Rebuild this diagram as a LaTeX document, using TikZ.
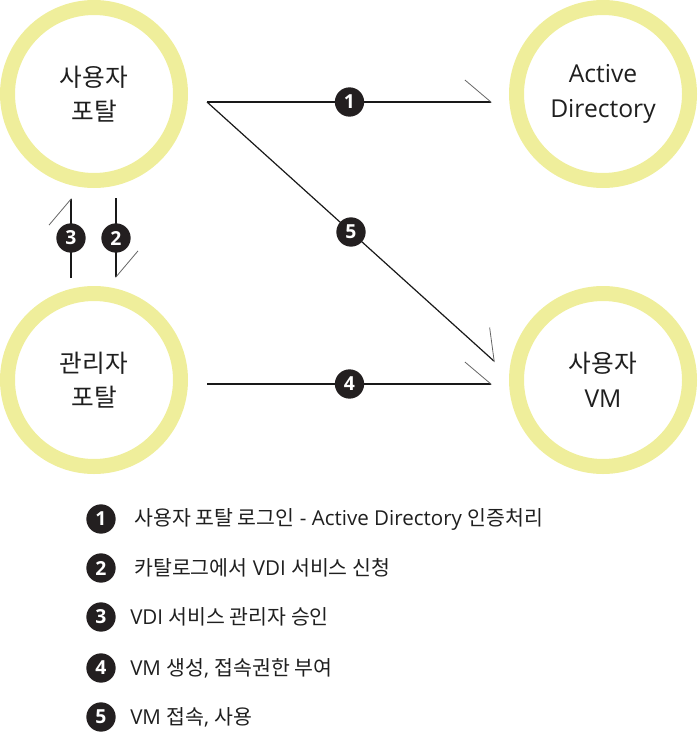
\documentclass[tikz,border=0pt]{standalone}
\usepackage{fontspec}
\setmainfont{Open Sans}
\newfontfamily\kr{Noto Sans CJK KR}
\usepackage{tikz}
\usetikzlibrary{arrows.meta,positioning}
\definecolor{ringyellow}{RGB}{239,238,155}
\definecolor{badgedark}{RGB}{35,31,32}

\begin{document}
\begin{tikzpicture}[x=0.75pt, y=-0.75pt,
    flow/.style={line width=0.9pt, black!90,
      -{Straight Barb[left, length=19.5pt, width=33pt, line width=0.6pt, color=black!60]}}]
  \tikzset{ring/.style={draw=ringyellow, circle, line width=11.25pt, minimum size=129.75pt,
             inner sep=0pt, align=center, text=black!88, font=\fontsize{18.5}{26}\selectfont},
           num/.style={circle, fill=badgedark, text=white, minimum size=22pt, inner sep=0pt,
             font=\fontsize{14.5}{14.5}\selectfont\bfseries},
           legtxt/.style={anchor=west, inner sep=0pt, text=black!88,
             font=\fontsize{15.4}{18}\selectfont}}
  \useasboundingbox (0,0) rectangle (698,735);

  % the four systems
  \node[ring] (portal) at (94,94)   {\kr 사용자\\\kr 포탈};
  \node[ring] (ad)     at (603,94)  {Active\\Directory};
  \node[ring] (admin)  at (94,380)  {\kr 관리자\\\kr 포탈};
  \node[ring] (vm)     at (603,380) {\kr 사용자\\VM};

  % where the flows leave and reach the circles
  \coordinate (pout) at (207,102);
  \coordinate (adin) at (492,102);
  \coordinate (vmin) at (495,362);
  \coordinate (aout) at (207,384);
  \coordinate (vmin4) at (492,384);
  \coordinate (pdown) at (116,198);
  \coordinate (aup) at (116,278);
  \coordinate (aback) at (71,278);
  \coordinate (pback) at (71,198);

  % login, then access
  \draw[flow] (pout) -- node[num] (n1) {1} (adin);
  \draw[flow] (pout) -- node[num] (n5) {5} (vmin);
  \draw[flow] (aout) -- node[num] (n4) {4} (vmin4);

  % request and approval between the portals
  \draw[flow] (pdown) -- node[num] (n2) {2} (aup);
  \draw[flow] (aback) -- node[num] (n3) {3} (pback);

  % legend
  \node[num] (k1) at (101,519) {1};
  \node[num] (k2) at (101,568) {2};
  \node[num] (k3) at (101,617) {3};
  \node[num] (k4) at (101,668) {4};
  \node[num] (k5) at (101,717) {5};
  \node[legtxt] (t1) at (134,519) {{\kr 사용자 포탈 로그인} - Active Directory {\kr 인증처리}};
  \node[legtxt] (t2) at (134,568) {{\kr 카탈로그에서} VDI {\kr 서비스 신청}};
  \node[legtxt] (t3) at (130,617) {VDI {\kr 서비스 관리자 승인}};
  \node[legtxt] (t4) at (130,668) {VM {\kr 생성}, {\kr 접속권한 부여}};
  \node[legtxt] (t5) at (130,717) {VM {\kr 접속}, {\kr 사용}};
\end{tikzpicture}
\end{document}
